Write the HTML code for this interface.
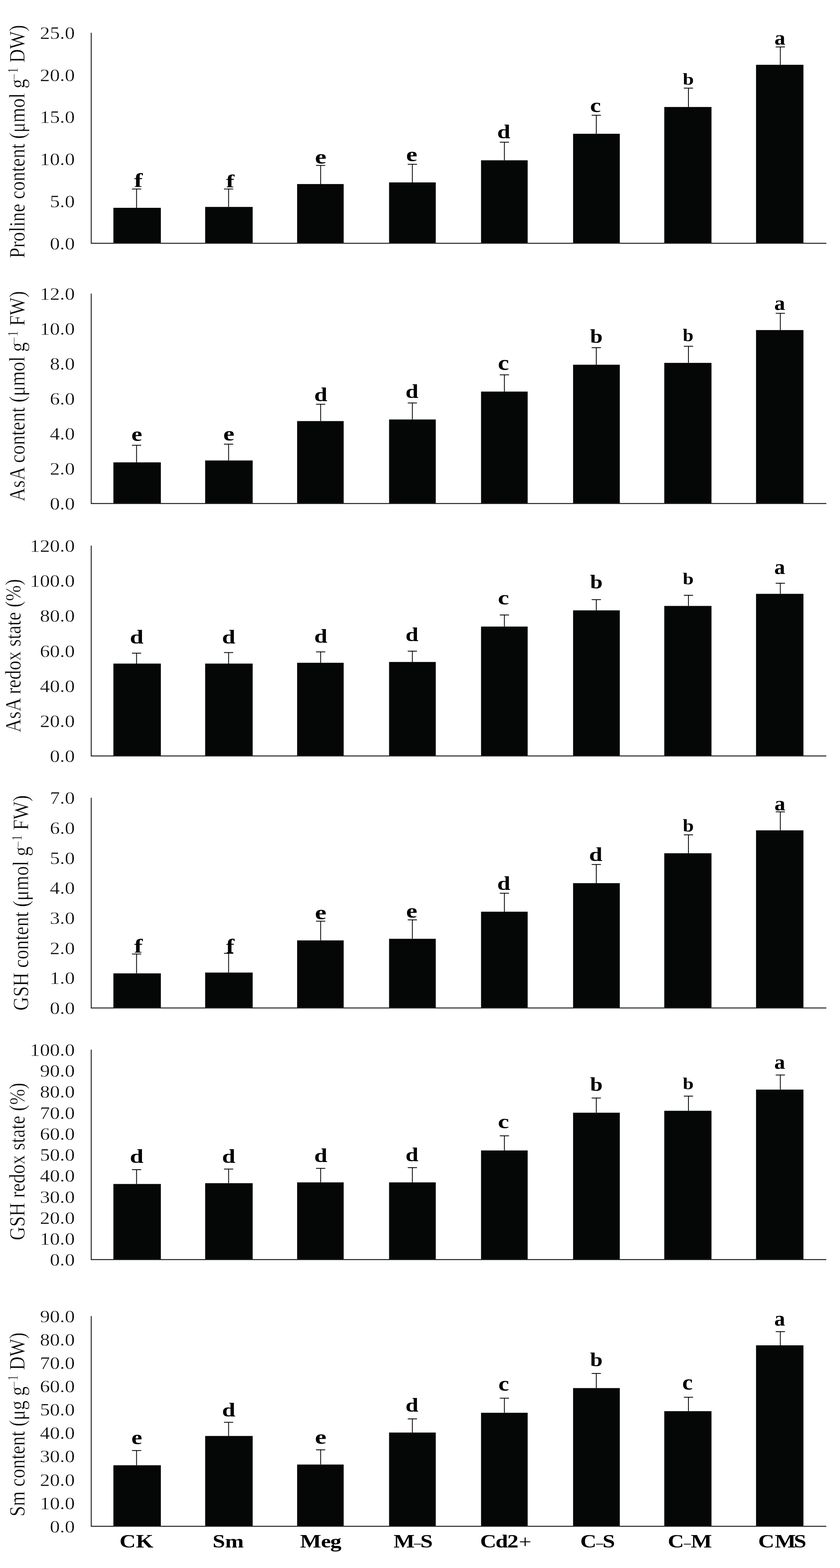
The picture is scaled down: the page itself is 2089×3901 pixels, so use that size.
<!DOCTYPE html><html><head><meta charset="utf-8"><title>Figure</title><style>html,body{margin:0;padding:0;background:#fff;}svg{display:block;} .th{stroke:#fff;stroke-width:0.5px;fill:#080808;}</style></head><body>
<svg width="2089" height="3901" viewBox="0 0 2089 3901" font-family="'Liberation Serif', 'Times New Roman', serif">
<rect x="0" y="0" width="2089" height="3901" fill="#fff"/>
<g><rect x="282.0" y="517.0" width="118.0" height="88.3" fill="#050706"/><rect x="510.2" y="514.8" width="118.2" height="90.5" fill="#050706"/><rect x="738.9" y="457.9" width="115.8" height="147.4" fill="#050706"/><rect x="967.6" y="453.8" width="116.1" height="151.5" fill="#050706"/><rect x="1196.3" y="398.8" width="116.0" height="206.5" fill="#050706"/><rect x="1425.2" y="332.8" width="116.2" height="272.5" fill="#050706"/><rect x="1652.0" y="266.2" width="117.4" height="339.1" fill="#050706"/><rect x="1880.2" y="161.2" width="117.9" height="444.1" fill="#050706"/><path d="M339.6 517.0V470.3M328.1 470.3H351.1" stroke="#000" stroke-width="2" fill="none"/><path d="M568.5 514.8V470.2M557.0 470.2H580.0" stroke="#000" stroke-width="2" fill="none"/><path d="M797.4 457.9V411.5M785.9 411.5H808.9" stroke="#000" stroke-width="2" fill="none"/><path d="M1025.5 453.8V408.8M1014.0 408.8H1037.0" stroke="#000" stroke-width="2" fill="none"/><path d="M1254.4 398.8V353.7M1242.9 353.7H1265.9" stroke="#000" stroke-width="2" fill="none"/><path d="M1482.9 332.8V286.7M1471.4 286.7H1494.4" stroke="#000" stroke-width="2" fill="none"/><path d="M1712.1 266.2V219.2M1700.6 219.2H1723.6" stroke="#000" stroke-width="2" fill="none"/><path d="M1940.6 161.2V116.8M1929.1 116.8H1952.1" stroke="#000" stroke-width="2" fill="none"/><path d="M226.9 81.5V605.3H2055.0" stroke="#262626" stroke-width="2.4" fill="none"/><text transform="translate(186.0 620.7) scale(1.140 1)" text-anchor="end" font-size="43.5" class="th">0.0</text><text transform="translate(186.0 516.0) scale(1.140 1)" text-anchor="end" font-size="43.5" class="th">5.0</text><text transform="translate(186.0 411.2) scale(1.140 1)" text-anchor="end" font-size="43.5" class="th">10.0</text><text transform="translate(186.0 306.4) scale(1.140 1)" text-anchor="end" font-size="43.5" class="th">15.0</text><text transform="translate(186.0 201.7) scale(1.140 1)" text-anchor="end" font-size="43.5" class="th">20.0</text><text transform="translate(186.0 96.9) scale(1.140 1)" text-anchor="end" font-size="43.5" class="th">25.0</text><text transform="translate(333.58 464.50) scale(1.335 1)" font-size="47.57" font-weight="bold">f</text><text transform="translate(562.09 466.20) scale(1.329 1)" font-size="47.14" font-weight="bold">f</text><text transform="translate(783.25 407.39) scale(1.247 1)" font-size="51.46" font-weight="bold">e</text><text transform="translate(1010.11 401.39) scale(1.216 1)" font-size="51.46" font-weight="bold">e</text><text transform="translate(1236.56 344.11) scale(1.203 1)" font-size="48.71" font-weight="bold">d</text><text transform="translate(1467.58 278.99) scale(1.176 1)" font-size="51.46" font-weight="bold">c</text><text transform="translate(1697.96 211.47) scale(1.149 1)" font-size="43.00" font-weight="bold">b</text><text transform="translate(1926.08 110.74) scale(1.048 1)" font-size="51.58" font-weight="bold">a</text><text transform="translate(60.6 352.30) scale(1.170 1.0000) rotate(-90)" text-anchor="middle" font-size="46.9" class="th">Proline content (μmol g<tspan dx="-3" dy="-11.4" font-size="30">−</tspan><tspan dy="-2.6" font-size="30">1</tspan><tspan dy="14"> DW)</tspan></text></g>
<g><rect x="282.0" y="1150.3" width="118.0" height="102.4" fill="#050706"/><rect x="510.2" y="1145.6" width="118.2" height="107.1" fill="#050706"/><rect x="738.9" y="1047.6" width="115.8" height="205.1" fill="#050706"/><rect x="967.6" y="1043.6" width="116.1" height="209.1" fill="#050706"/><rect x="1196.3" y="974.2" width="116.0" height="278.5" fill="#050706"/><rect x="1425.2" y="907.4" width="116.2" height="345.3" fill="#050706"/><rect x="1652.0" y="902.8" width="117.4" height="349.9" fill="#050706"/><rect x="1880.2" y="821.2" width="117.9" height="431.5" fill="#050706"/><path d="M339.6 1150.3V1107.7M328.1 1107.7H351.1" stroke="#000" stroke-width="2" fill="none"/><path d="M568.5 1145.6V1105.0M557.0 1105.0H580.0" stroke="#000" stroke-width="2" fill="none"/><path d="M797.4 1047.6V1005.7M785.9 1005.7H808.9" stroke="#000" stroke-width="2" fill="none"/><path d="M1025.5 1043.6V1002.4M1014.0 1002.4H1037.0" stroke="#000" stroke-width="2" fill="none"/><path d="M1254.4 974.2V932.4M1242.9 932.4H1265.9" stroke="#000" stroke-width="2" fill="none"/><path d="M1482.9 907.4V865.0M1471.4 865.0H1494.4" stroke="#000" stroke-width="2" fill="none"/><path d="M1712.1 902.8V861.6M1700.6 861.6H1723.6" stroke="#000" stroke-width="2" fill="none"/><path d="M1940.6 821.2V779.4M1929.1 779.4H1952.1" stroke="#000" stroke-width="2" fill="none"/><path d="M226.9 730.4V1252.7H2055.0" stroke="#262626" stroke-width="2.4" fill="none"/><text transform="translate(186.0 1268.1) scale(1.140 1)" text-anchor="end" font-size="43.5" class="th">0.0</text><text transform="translate(186.0 1181.1) scale(1.140 1)" text-anchor="end" font-size="43.5" class="th">2.0</text><text transform="translate(186.0 1094.0) scale(1.140 1)" text-anchor="end" font-size="43.5" class="th">4.0</text><text transform="translate(186.0 1007.0) scale(1.140 1)" text-anchor="end" font-size="43.5" class="th">6.0</text><text transform="translate(186.0 919.9) scale(1.140 1)" text-anchor="end" font-size="43.5" class="th">8.0</text><text transform="translate(186.0 832.9) scale(1.140 1)" text-anchor="end" font-size="43.5" class="th">10.0</text><text transform="translate(186.0 745.8) scale(1.140 1)" text-anchor="end" font-size="43.5" class="th">12.0</text><text transform="translate(326.78 1097.40) scale(1.205 1)" font-size="50.21" font-weight="bold">e</text><text transform="translate(555.22 1095.69) scale(1.211 1)" font-size="51.46" font-weight="bold">e</text><text transform="translate(781.56 998.02) scale(1.217 1)" font-size="48.14" font-weight="bold">d</text><text transform="translate(1008.40 989.72) scale(1.193 1)" font-size="48.14" font-weight="bold">d</text><text transform="translate(1238.32 920.08) scale(1.197 1)" font-size="52.08" font-weight="bold">c</text><text transform="translate(1467.56 853.41) scale(1.150 1)" font-size="48.71" font-weight="bold">b</text><text transform="translate(1698.09 848.97) scale(1.096 1)" font-size="43.43" font-weight="bold">b</text><text transform="translate(1925.58 770.74) scale(1.048 1)" font-size="51.58" font-weight="bold">a</text><text transform="translate(60.8 985.90) scale(1.170 1.0054) rotate(-90)" text-anchor="middle" font-size="46.9" class="th">AsA content (μmol g<tspan dx="-3" dy="-11.4" font-size="30">−</tspan><tspan dy="-2.6" font-size="30">1</tspan><tspan dy="14"> FW)</tspan></text></g>
<g><rect x="282.0" y="1650.9" width="118.0" height="229.8" fill="#050706"/><rect x="510.2" y="1650.9" width="118.2" height="229.8" fill="#050706"/><rect x="738.9" y="1648.9" width="115.8" height="231.8" fill="#050706"/><rect x="967.6" y="1646.9" width="116.1" height="233.8" fill="#050706"/><rect x="1196.3" y="1558.8" width="116.0" height="321.9" fill="#050706"/><rect x="1425.2" y="1518.5" width="116.2" height="362.2" fill="#050706"/><rect x="1652.0" y="1507.5" width="117.4" height="373.2" fill="#050706"/><rect x="1880.2" y="1477.4" width="117.9" height="403.3" fill="#050706"/><path d="M339.6 1650.9V1625.0M328.1 1625.0H351.1" stroke="#000" stroke-width="2" fill="none"/><path d="M568.5 1650.9V1623.4M557.0 1623.4H580.0" stroke="#000" stroke-width="2" fill="none"/><path d="M797.4 1648.9V1621.7M785.9 1621.7H808.9" stroke="#000" stroke-width="2" fill="none"/><path d="M1025.5 1646.9V1620.0M1014.0 1620.0H1037.0" stroke="#000" stroke-width="2" fill="none"/><path d="M1254.4 1558.8V1530.0M1242.9 1530.0H1265.9" stroke="#000" stroke-width="2" fill="none"/><path d="M1482.9 1518.5V1491.7M1471.4 1491.7H1494.4" stroke="#000" stroke-width="2" fill="none"/><path d="M1712.1 1507.5V1481.1M1700.6 1481.1H1723.6" stroke="#000" stroke-width="2" fill="none"/><path d="M1940.6 1477.4V1451.1M1929.1 1451.1H1952.1" stroke="#000" stroke-width="2" fill="none"/><path d="M226.9 1357.5V1880.7H2055.0" stroke="#262626" stroke-width="2.4" fill="none"/><text transform="translate(186.0 1896.1) scale(1.140 1)" text-anchor="end" font-size="43.5" class="th">0.0</text><text transform="translate(186.0 1808.9) scale(1.140 1)" text-anchor="end" font-size="43.5" class="th">20.0</text><text transform="translate(186.0 1721.7) scale(1.140 1)" text-anchor="end" font-size="43.5" class="th">40.0</text><text transform="translate(186.0 1634.5) scale(1.140 1)" text-anchor="end" font-size="43.5" class="th">60.0</text><text transform="translate(186.0 1547.3) scale(1.140 1)" text-anchor="end" font-size="43.5" class="th">80.0</text><text transform="translate(186.0 1460.1) scale(1.140 1)" text-anchor="end" font-size="43.5" class="th">100.0</text><text transform="translate(186.0 1372.9) scale(1.140 1)" text-anchor="end" font-size="43.5" class="th">120.0</text><text transform="translate(323.07 1600.71) scale(1.252 1)" font-size="48.57" font-weight="bold">d</text><text transform="translate(552.32 1600.71) scale(1.223 1)" font-size="48.57" font-weight="bold">d</text><text transform="translate(781.56 1599.01) scale(1.207 1)" font-size="48.57" font-weight="bold">d</text><text transform="translate(1008.40 1594.71) scale(1.182 1)" font-size="48.57" font-weight="bold">d</text><text transform="translate(1238.32 1504.09) scale(1.211 1)" font-size="51.46" font-weight="bold">c</text><text transform="translate(1467.56 1464.01) scale(1.153 1)" font-size="48.57" font-weight="bold">b</text><text transform="translate(1698.07 1453.57) scale(1.142 1)" font-size="42.57" font-weight="bold">b</text><text transform="translate(1925.58 1427.64) scale(1.044 1)" font-size="51.79" font-weight="bold">a</text><text transform="translate(51.4 1631.45) scale(1.170 1.0000) rotate(-90)" text-anchor="middle" font-size="46.9" class="th">AsA redox state (%)</text></g>
<g><rect x="282.0" y="2421.6" width="118.0" height="86.1" fill="#050706"/><rect x="510.2" y="2419.6" width="118.2" height="88.1" fill="#050706"/><rect x="738.9" y="2339.6" width="115.8" height="168.1" fill="#050706"/><rect x="967.6" y="2335.6" width="116.1" height="172.1" fill="#050706"/><rect x="1196.3" y="2268.2" width="116.0" height="239.5" fill="#050706"/><rect x="1425.2" y="2197.2" width="116.2" height="310.5" fill="#050706"/><rect x="1652.0" y="2122.8" width="117.4" height="384.9" fill="#050706"/><rect x="1880.2" y="2065.8" width="117.9" height="441.9" fill="#050706"/><path d="M339.6 2421.6V2373.4M328.1 2373.4H351.1" stroke="#000" stroke-width="2" fill="none"/><path d="M568.5 2419.6V2371.7M557.0 2371.7H580.0" stroke="#000" stroke-width="2" fill="none"/><path d="M797.4 2339.6V2291.7M785.9 2291.7H808.9" stroke="#000" stroke-width="2" fill="none"/><path d="M1025.5 2335.6V2288.4M1014.0 2288.4H1037.0" stroke="#000" stroke-width="2" fill="none"/><path d="M1254.4 2268.2V2222.2M1242.9 2222.2H1265.9" stroke="#000" stroke-width="2" fill="none"/><path d="M1482.9 2197.2V2150.7M1471.4 2150.7H1494.4" stroke="#000" stroke-width="2" fill="none"/><path d="M1712.1 2122.8V2077.1M1700.6 2077.1H1723.6" stroke="#000" stroke-width="2" fill="none"/><path d="M1940.6 2065.8V2019.8M1929.1 2019.8H1952.1" stroke="#000" stroke-width="2" fill="none"/><path d="M226.9 1984.8V2507.7H2055.0" stroke="#262626" stroke-width="2.4" fill="none"/><text transform="translate(186.0 2523.1) scale(1.140 1)" text-anchor="end" font-size="43.5" class="th">0.0</text><text transform="translate(186.0 2448.4) scale(1.140 1)" text-anchor="end" font-size="43.5" class="th">1.0</text><text transform="translate(186.0 2373.7) scale(1.140 1)" text-anchor="end" font-size="43.5" class="th">2.0</text><text transform="translate(186.0 2299.0) scale(1.140 1)" text-anchor="end" font-size="43.5" class="th">3.0</text><text transform="translate(186.0 2224.3) scale(1.140 1)" text-anchor="end" font-size="43.5" class="th">4.0</text><text transform="translate(186.0 2149.6) scale(1.140 1)" text-anchor="end" font-size="43.5" class="th">5.0</text><text transform="translate(186.0 2074.9) scale(1.140 1)" text-anchor="end" font-size="43.5" class="th">6.0</text><text transform="translate(186.0 2000.2) scale(1.140 1)" text-anchor="end" font-size="43.5" class="th">7.0</text><text transform="translate(333.58 2369.50) scale(1.308 1)" font-size="48.57" font-weight="bold">f</text><text transform="translate(562.09 2371.20) scale(1.228 1)" font-size="51.00" font-weight="bold">f</text><text transform="translate(783.25 2286.69) scale(1.262 1)" font-size="50.83" font-weight="bold">e</text><text transform="translate(1010.11 2283.39) scale(1.231 1)" font-size="50.83" font-weight="bold">e</text><text transform="translate(1236.56 2214.11) scale(1.203 1)" font-size="48.71" font-weight="bold">d</text><text transform="translate(1464.92 2142.41) scale(1.224 1)" font-size="48.71" font-weight="bold">d</text><text transform="translate(1698.06 2069.17) scale(1.133 1)" font-size="43.43" font-weight="bold">b</text><text transform="translate(1926.08 2015.74) scale(1.048 1)" font-size="51.58" font-weight="bold">a</text><text transform="translate(70.3 2246.35) scale(1.170 1.0093) rotate(-90)" text-anchor="middle" font-size="46.9" class="th">GSH content (μmol g<tspan dx="-3" dy="-11.4" font-size="30">−</tspan><tspan dy="-2.6" font-size="30">1</tspan><tspan dy="14"> FW)</tspan></text></g>
<g><rect x="282.0" y="2945.6" width="118.0" height="188.2" fill="#050706"/><rect x="510.2" y="2943.6" width="118.2" height="190.2" fill="#050706"/><rect x="738.9" y="2941.6" width="115.8" height="192.2" fill="#050706"/><rect x="967.6" y="2941.6" width="116.1" height="192.2" fill="#050706"/><rect x="1196.3" y="2862.2" width="116.0" height="271.6" fill="#050706"/><rect x="1425.2" y="2768.3" width="116.2" height="365.5" fill="#050706"/><rect x="1652.0" y="2763.5" width="117.4" height="370.3" fill="#050706"/><rect x="1880.2" y="2710.8" width="117.9" height="423.0" fill="#050706"/><path d="M339.6 2945.6V2910.0M328.1 2910.0H351.1" stroke="#000" stroke-width="2" fill="none"/><path d="M568.5 2943.6V2908.4M557.0 2908.4H580.0" stroke="#000" stroke-width="2" fill="none"/><path d="M797.4 2941.6V2906.7M785.9 2906.7H808.9" stroke="#000" stroke-width="2" fill="none"/><path d="M1025.5 2941.6V2905.0M1014.0 2905.0H1037.0" stroke="#000" stroke-width="2" fill="none"/><path d="M1254.4 2862.2V2825.8M1242.9 2825.8H1265.9" stroke="#000" stroke-width="2" fill="none"/><path d="M1482.9 2768.3V2731.7M1471.4 2731.7H1494.4" stroke="#000" stroke-width="2" fill="none"/><path d="M1712.1 2763.5V2727.0M1700.6 2727.0H1723.6" stroke="#000" stroke-width="2" fill="none"/><path d="M1940.6 2710.8V2674.4M1929.1 2674.4H1952.1" stroke="#000" stroke-width="2" fill="none"/><path d="M226.9 2611.4V3133.8H2055.0" stroke="#262626" stroke-width="2.4" fill="none"/><text transform="translate(186.0 3149.2) scale(1.140 1)" text-anchor="end" font-size="43.5" class="th">0.0</text><text transform="translate(186.0 3097.0) scale(1.140 1)" text-anchor="end" font-size="43.5" class="th">10.0</text><text transform="translate(186.0 3044.7) scale(1.140 1)" text-anchor="end" font-size="43.5" class="th">20.0</text><text transform="translate(186.0 2992.5) scale(1.140 1)" text-anchor="end" font-size="43.5" class="th">30.0</text><text transform="translate(186.0 2940.3) scale(1.140 1)" text-anchor="end" font-size="43.5" class="th">40.0</text><text transform="translate(186.0 2888.0) scale(1.140 1)" text-anchor="end" font-size="43.5" class="th">50.0</text><text transform="translate(186.0 2835.8) scale(1.140 1)" text-anchor="end" font-size="43.5" class="th">60.0</text><text transform="translate(186.0 2783.5) scale(1.140 1)" text-anchor="end" font-size="43.5" class="th">70.0</text><text transform="translate(186.0 2731.3) scale(1.140 1)" text-anchor="end" font-size="43.5" class="th">80.0</text><text transform="translate(186.0 2679.1) scale(1.140 1)" text-anchor="end" font-size="43.5" class="th">90.0</text><text transform="translate(186.0 2626.8) scale(1.140 1)" text-anchor="end" font-size="43.5" class="th">100.0</text><text transform="translate(323.07 2893.42) scale(1.274 1)" font-size="47.71" font-weight="bold">d</text><text transform="translate(552.32 2893.42) scale(1.245 1)" font-size="47.71" font-weight="bold">d</text><text transform="translate(781.56 2891.42) scale(1.217 1)" font-size="48.14" font-weight="bold">d</text><text transform="translate(1008.40 2889.02) scale(1.207 1)" font-size="47.57" font-weight="bold">d</text><text transform="translate(1238.32 2807.39) scale(1.211 1)" font-size="51.46" font-weight="bold">c</text><text transform="translate(1467.56 2714.01) scale(1.153 1)" font-size="48.57" font-weight="bold">b</text><text transform="translate(1698.07 2709.67) scale(1.130 1)" font-size="43.00" font-weight="bold">b</text><text transform="translate(1925.58 2658.94) scale(1.057 1)" font-size="51.16" font-weight="bold">a</text><text transform="translate(60.5 2889.90) scale(1.170 1.0000) rotate(-90)" text-anchor="middle" font-size="46.9" class="th">GSH redox state (%)</text></g>
<g><rect x="282.0" y="3645.4" width="118.0" height="151.9" fill="#050706"/><rect x="510.2" y="3572.5" width="118.2" height="224.8" fill="#050706"/><rect x="738.9" y="3643.6" width="115.8" height="153.7" fill="#050706"/><rect x="967.6" y="3564.0" width="116.1" height="233.3" fill="#050706"/><rect x="1196.3" y="3514.8" width="116.0" height="282.5" fill="#050706"/><rect x="1425.2" y="3453.4" width="116.2" height="343.9" fill="#050706"/><rect x="1652.0" y="3510.8" width="117.4" height="286.5" fill="#050706"/><rect x="1880.2" y="3347.0" width="117.9" height="450.3" fill="#050706"/><path d="M339.6 3645.4V3608.8M328.1 3608.8H351.1" stroke="#000" stroke-width="2" fill="none"/><path d="M568.5 3572.5V3538.4M557.0 3538.4H580.0" stroke="#000" stroke-width="2" fill="none"/><path d="M797.4 3643.6V3607.0M785.9 3607.0H808.9" stroke="#000" stroke-width="2" fill="none"/><path d="M1025.5 3564.0V3530.0M1014.0 3530.0H1037.0" stroke="#000" stroke-width="2" fill="none"/><path d="M1254.4 3514.8V3478.6M1242.9 3478.6H1265.9" stroke="#000" stroke-width="2" fill="none"/><path d="M1482.9 3453.4V3417.0M1471.4 3417.0H1494.4" stroke="#000" stroke-width="2" fill="none"/><path d="M1712.1 3510.8V3476.2M1700.6 3476.2H1723.6" stroke="#000" stroke-width="2" fill="none"/><path d="M1940.6 3347.0V3313.0M1929.1 3313.0H1952.1" stroke="#000" stroke-width="2" fill="none"/><path d="M226.9 3274.3V3797.3H2055.0" stroke="#262626" stroke-width="2.4" fill="none"/><text transform="translate(186.0 3812.7) scale(1.140 1)" text-anchor="end" font-size="43.5" class="th">0.0</text><text transform="translate(186.0 3754.6) scale(1.140 1)" text-anchor="end" font-size="43.5" class="th">10.0</text><text transform="translate(186.0 3696.5) scale(1.140 1)" text-anchor="end" font-size="43.5" class="th">20.0</text><text transform="translate(186.0 3638.4) scale(1.140 1)" text-anchor="end" font-size="43.5" class="th">30.0</text><text transform="translate(186.0 3580.3) scale(1.140 1)" text-anchor="end" font-size="43.5" class="th">40.0</text><text transform="translate(186.0 3522.2) scale(1.140 1)" text-anchor="end" font-size="43.5" class="th">50.0</text><text transform="translate(186.0 3464.1) scale(1.140 1)" text-anchor="end" font-size="43.5" class="th">60.0</text><text transform="translate(186.0 3405.9) scale(1.140 1)" text-anchor="end" font-size="43.5" class="th">70.0</text><text transform="translate(186.0 3347.8) scale(1.140 1)" text-anchor="end" font-size="43.5" class="th">80.0</text><text transform="translate(186.0 3289.7) scale(1.140 1)" text-anchor="end" font-size="43.5" class="th">90.0</text><text transform="translate(326.78 3593.09) scale(1.176 1)" font-size="51.46" font-weight="bold">e</text><text transform="translate(552.32 3524.01) scale(1.223 1)" font-size="48.57" font-weight="bold">d</text><text transform="translate(783.25 3592.40) scale(1.283 1)" font-size="50.00" font-weight="bold">e</text><text transform="translate(1008.40 3512.41) scale(1.179 1)" font-size="48.71" font-weight="bold">d</text><text transform="translate(1239.41 3460.08) scale(1.142 1)" font-size="52.29" font-weight="bold">c</text><text transform="translate(1467.56 3399.01) scale(1.153 1)" font-size="48.57" font-weight="bold">b</text><text transform="translate(1696.75 3456.55) scale(1.055 1)" font-size="55.42" font-weight="bold">c</text><text transform="translate(1925.58 3297.64) scale(1.023 1)" font-size="52.84" font-weight="bold">a</text><text transform="translate(60.5 3543.90) scale(1.170 1.0000) rotate(-90)" text-anchor="middle" font-size="46.9" class="th">Sm content (μg g<tspan dx="-3" dy="-11.4" font-size="30">−</tspan><tspan dy="-2.6" font-size="30">1</tspan><tspan dy="14"> DW)</tspan></text></g>
<text transform="scale(1.200 1)" font-size="46.5" font-weight="bold"><tspan x="247.80" y="3849.84">C</tspan><tspan x="281.71" y="3849.84">K</tspan></text>
<text transform="scale(1.200 1)" font-size="46.5" font-weight="bold"><tspan x="440.71" y="3849.84">S</tspan><tspan x="466.51" y="3849.84">m</tspan></text>
<text transform="scale(1.200 1)" font-size="46.5" font-weight="bold"><tspan x="621.96" y="3849.84">M</tspan><tspan x="665.17" y="3849.84">e</tspan><tspan x="684.44" y="3849.84">g</tspan></text>
<text transform="scale(1.200 1)" font-size="46.5" font-weight="bold"><tspan x="815.63" y="3849.84">M</tspan><tspan x="858.17" y="3848.28" font-weight="normal" font-size="28" stroke="#000" stroke-width="0.5">–</tspan><tspan x="871.00" y="3849.84">S</tspan></text>
<text transform="scale(1.200 1)" font-size="46.5" font-weight="bold"><tspan x="994.97" y="3849.84">C</tspan><tspan x="1026.94" y="3849.84">d</tspan><tspan x="1051.24" y="3849.84">2</tspan><tspan x="1075.20" y="3850.74" font-weight="normal">+</tspan></text>
<text transform="scale(1.200 1)" font-size="46.5" font-weight="bold"><tspan x="1202.42" y="3849.84">C</tspan><tspan x="1235.33" y="3848.08" font-weight="normal" font-size="28" stroke="#000" stroke-width="0.5">–</tspan><tspan x="1248.71" y="3849.84">S</tspan></text>
<text transform="scale(1.200 1)" font-size="46.5" font-weight="bold"><tspan x="1384.01" y="3849.84">C</tspan><tspan x="1417.50" y="3848.08" font-weight="normal" font-size="28" stroke="#000" stroke-width="0.5">–</tspan><tspan x="1431.75" y="3849.84">M</tspan></text>
<text transform="scale(1.200 1)" font-size="46.5" font-weight="bold"><tspan x="1571.30" y="3849.84">C</tspan><tspan x="1605.54" y="3849.84">M</tspan><tspan x="1645.29" y="3849.84">S</tspan></text>
</svg></body></html>
